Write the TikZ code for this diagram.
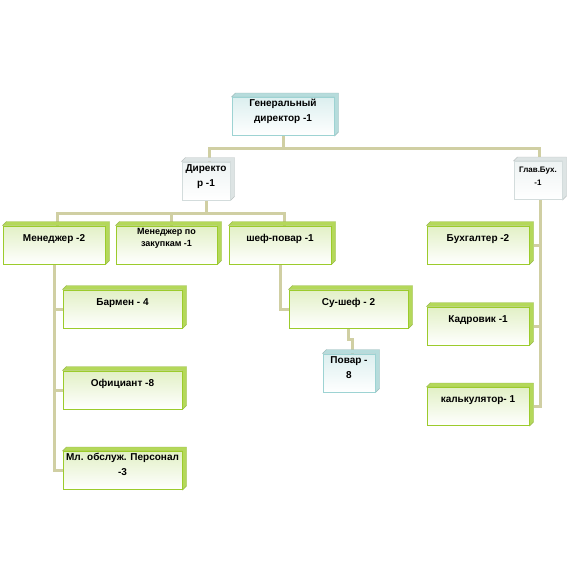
\documentclass[tikz,border=0pt]{standalone}
\usepackage{fontspec}
\setmainfont{Liberation Sans}
\usepackage{tikz}
\usepackage{xcolor}
\usetikzlibrary{positioning,backgrounds}
\definecolor{grnline}{HTML}{9CCB2C}
\definecolor{grnfill}{HTML}{E2F0C6}
\definecolor{grnside}{HTML}{B4D85A}
\definecolor{tealline}{HTML}{9DD3D3}
\definecolor{tealfill}{HTML}{DCEFEF}
\definecolor{tealside}{HTML}{B6DCDC}
\definecolor{grayline}{HTML}{D3DCDC}
\definecolor{grayfill}{HTML}{EEF3F3}
\definecolor{grayside}{HTML}{DDE4E4}
\definecolor{linkc}{HTML}{D0CFA3}

\begin{document}
\begin{tikzpicture}[x=1pt,y=-1pt,every node/.style={font=\bfseries\fontsize{10}{15}\selectfont}]
    \tikzstyle{link}=[draw=linkc,line width=3pt];
    \tikzstyle{side3d}=[append after command={\pgfextra{%
        \filldraw[fill=#1,draw=#1!85!black,line width=0.4pt]
          (\tikzlastnode.north west) -- ++(4,-4)
          -- ([shift={(4,-4)}]\tikzlastnode.north east)
          -- ([shift={(4,-4)}]\tikzlastnode.south east)
          -- (\tikzlastnode.south east) -- (\tikzlastnode.north east) -- cycle;}}];
    \tikzstyle{box}=[rectangle,line width=1pt,inner sep=1pt,align=center,
                     minimum height=38pt,text height=7pt,text depth=15pt];
    \tikzstyle{twoline}=[text height=17pt,text depth=7pt];
    \tikzstyle{grn}=[box,draw=grnline,top color=grnfill,bottom color=white,side3d=grnside];
    \tikzstyle{teal}=[box,draw=tealline,top color=tealfill,bottom color=white,side3d=tealside];
    \tikzstyle{gry}=[box,draw=grayline,top color=grayfill,bottom color=white,side3d=grayside];
    \useasboundingbox (0,0) rectangle (570,560);
    % --- top ---
    \node[teal,twoline,minimum width=102pt] (gen) at (283,116.5) {Генеральный\\директор -1};
    \node[gry,twoline,minimum width=48pt]   (dir) at (206,181)   {Директо\\р -1};
    \node[gry,twoline,minimum width=48pt,font=\bfseries\fontsize{8}{13}\selectfont]
                                    (gb)  at (538,180.5) {Глав.Бух.\\-1};
    % --- managers ---
    \node[grn,minimum width=102pt] (m1)   at (54,245)    {Менеджер -2};
    \node[grn,minimum width=101pt,text height=13pt,text depth=10pt,
          font=\bfseries\fontsize{9}{12.5}\selectfont]
                                   (m2)   at (166.5,245) {Менеджер по\\закупкам -1};
    \node[grn,minimum width=102pt] (chef) at (280,245)   {шеф-повар -1};
    % --- staff ---
    \node[grn,minimum width=119pt] (barm) at (122.5,309) {Бармен - 4};
    \node[grn,minimum width=119pt] (ofic) at (122.5,390) {Официант -8};
    \node[grn,twoline,minimum width=119pt] (ml) at (122.5,470.5) {Мл. обслуж. Персонал\\-3};
    \node[grn,minimum width=119pt] (sous) at (348.5,309) {Су-шеф - 2};
    \node[teal,twoline,minimum width=52pt] (povar) at (349,373) {Повар -\\8};
    % --- accounting ---
    \node[grn,minimum width=102pt] (buh)  at (478,245)   {Бухгалтер -2};
    \node[grn,minimum width=102pt] (kadr) at (478,326)   {Кадровик -1};
    \node[grn,minimum width=102pt] (kalk) at (478,406.5) {калькулятор- 1};
    % --- links ---
    \coordinate (hub1) at (283,148);
    \coordinate (hub2) at (206,213);
    \begin{scope}[on background layer]
      \draw[link] (gen.south) -- (hub1);
      \draw[link] (hub1) -| ([xshift=3pt]dir.north);
      \draw[link] (hub1) -| ([xshift=1pt]gb.north);
      \draw[link] (dir.south) -- (hub2);
      \draw[link] (hub2) -| ([xshift=3pt]m1.north);
      \draw[link] (hub2) -| ([xshift=4.5pt]m2.north);
      \draw[link] (hub2) -| ([xshift=4pt]chef.north);
      \draw[link] (m1.south) |- (barm.west);
      \draw[link] (m1.south) |- (ofic.west);
      \draw[link] (m1.south) |- (ml.west);
      \draw[link] (chef.south) |- (sous.west);
      \draw[link] (sous.south) -- ++(0,11) -| ([xshift=3pt]povar.north);
      \draw[link] ([xshift=2pt]gb.south) |- ([xshift=4pt]buh.east);
      \draw[link] ([xshift=2pt]gb.south) |- ([xshift=4pt]kadr.east);
      \draw[link] ([xshift=2pt]gb.south) |- ([xshift=4pt]kalk.east);
    \end{scope}
\end{tikzpicture}
\end{document}
